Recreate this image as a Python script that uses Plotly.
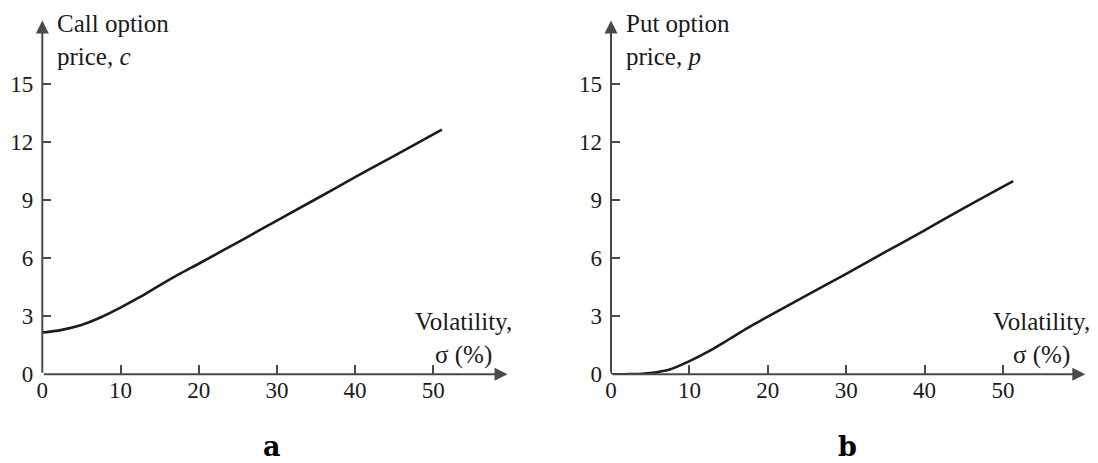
import plotly.graph_objects as go

# Option price versus volatility (sigma in %)
call_sigma = [0, 2.5, 5, 7.5, 10, 12.5, 15, 17.5, 20, 25, 30, 35, 40, 45, 51.1]
call_price = [2.16, 2.3, 2.55, 2.95, 3.45, 4.0, 4.6, 5.18, 5.72, 6.83, 7.95, 9.07, 10.2, 11.3, 12.66]

put_sigma = [0, 2.5, 5, 7.5, 10, 12.5, 15, 17.5, 20, 25, 30, 35, 40, 45, 51.3]
put_price = [0, 0.01, 0.07, 0.25, 0.68, 1.2, 1.8, 2.42, 2.98, 4.1, 5.2, 6.33, 7.45, 8.6, 10.0]

x_ticks = [0, 10, 20, 30, 40, 50]
y_ticks = [0, 3, 6, 9, 12, 15]

X_MAX_A, X_MAX_B, Y_MAX = 59.5, 60.5, 18.3
W, H = 1098, 463

SERIF = "Liberation Serif, Times New Roman, serif"
AXIS_COL = "#4a4a4a"
TXT_COL = "#1a1a1a"

fig = go.Figure()
fig.add_trace(go.Scatter(x=call_sigma, y=call_price, mode="lines",
                         line=dict(color="#1c1c1c", width=2.6, shape="spline"),
                         xaxis="x", yaxis="y", showlegend=False))
fig.add_trace(go.Scatter(x=put_sigma, y=put_price, mode="lines",
                         line=dict(color="#1c1c1c", width=2.6, shape="spline"),
                         xaxis="x2", yaxis="y2", showlegend=False))

y_dom = [(H - 374.3) / H, (H - 20.6) / H]
ax_common = dict(showgrid=False, zeroline=False, showline=False, ticks="inside",
                 ticklen=9, tickwidth=2, tickcolor=AXIS_COL, automargin=False,
                 tickfont=dict(family=SERIF, size=23, color=TXT_COL))

fig.update_layout(
    width=W, height=H, margin=dict(l=0, r=0, t=0, b=0, autoexpand=False),
    paper_bgcolor="white", plot_bgcolor="white",
    xaxis=dict(domain=[42.3 / W, (42.3 + X_MAX_A * 7.82) / W], range=[0, X_MAX_A],
               tickvals=x_ticks, anchor="y", **ax_common),
    yaxis=dict(domain=y_dom, range=[0, Y_MAX], tickvals=y_ticks, anchor="x",
               ticklabelstandoff=8, **ax_common),
    xaxis2=dict(domain=[611 / W, (611 + X_MAX_B * 7.84) / W], range=[0, X_MAX_B],
                tickvals=x_ticks, anchor="y2", **ax_common),
    yaxis2=dict(domain=y_dom, range=[0, Y_MAX], tickvals=y_ticks, anchor="x2",
                ticklabelstandoff=8, **ax_common),
)

# Axis lines with arrowheads
for xr, yr, xmax in (("x", "y", X_MAX_A), ("x2", "y2", X_MAX_B)):
    fig.add_annotation(x=xmax, y=0, ax=0, ay=0, xref=xr, yref=yr, axref=xr, ayref=yr,
                       text="", showarrow=True, arrowhead=2, arrowsize=1.3,
                       arrowwidth=2, arrowcolor=AXIS_COL)
    fig.add_annotation(x=0, y=Y_MAX, ax=0, ay=0, xref=xr, yref=yr, axref=xr, ayref=yr,
                       text="", showarrow=True, arrowhead=2, arrowsize=1.3,
                       arrowwidth=2, arrowcolor=AXIS_COL)

title_font = dict(family=SERIF, size=25, color=TXT_COL)
fig.add_annotation(x=1.6, y=17.3, xref="x", yref="y", xanchor="left", yanchor="middle",
                   text="Call option<br>price, <i>c</i>", showarrow=False, align="left",
                   font=title_font)
fig.add_annotation(x=1.6, y=17.3, xref="x2", yref="y2", xanchor="left", yanchor="middle",
                   text="Put option<br>price, <i>p</i>", showarrow=False, align="left",
                   font=title_font)
fig.add_annotation(x=53.9, y=1.83, xref="x", yref="y", xanchor="center", yanchor="middle",
                   text="Volatility,<br>σ (%)", showarrow=False, align="center",
                   font=title_font)
fig.add_annotation(x=54.85, y=1.83, xref="x2", yref="y2", xanchor="center", yanchor="middle",
                   text="Volatility,<br>σ (%)", showarrow=False, align="center",
                   font=title_font)

# Panel letters sit on the bottom edge of the figure
panel_font = dict(family="DejaVu Serif, serif", size=27, color="black")
fig.add_annotation(x=272 / W, y=0, xref="paper", yref="paper", borderpad=0,
                   xanchor="center", yanchor="bottom", text="<b>a</b>",
                   showarrow=False, font=panel_font)
fig.add_annotation(x=847 / W, y=0, xref="paper", yref="paper", borderpad=0,
                   xanchor="center", yanchor="bottom", text="<b>b</b>",
                   showarrow=False, font=panel_font)

fig.write_html("out.html")
